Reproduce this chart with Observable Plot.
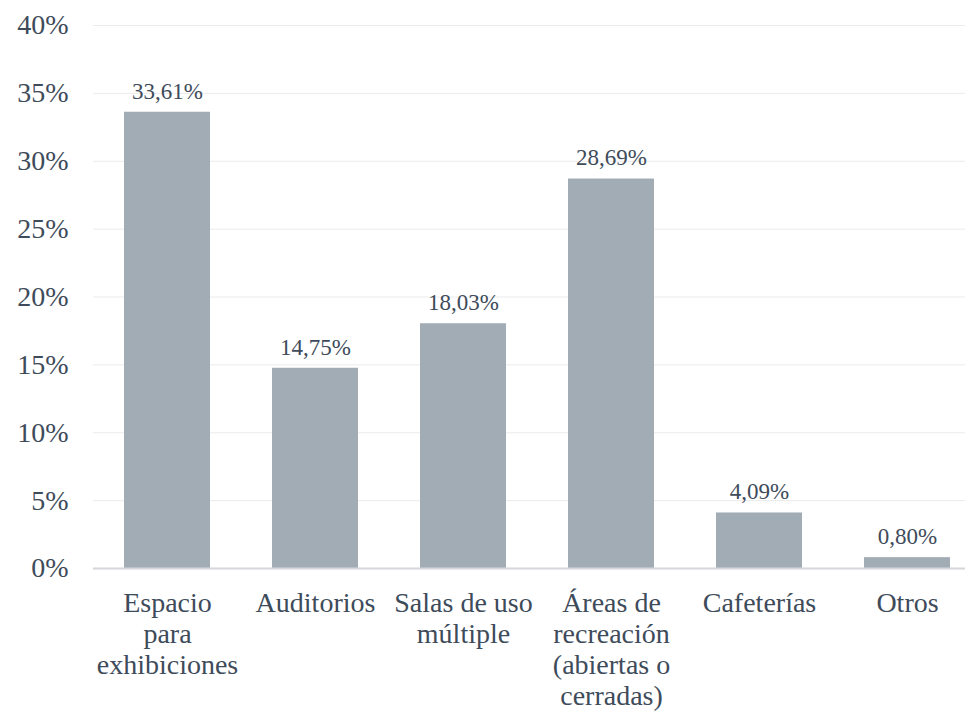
<!DOCTYPE html>
<html>
<head>
<meta charset="utf-8">
<script src="https://cdn.jsdelivr.net/npm/d3@7"></script>
<script src="https://cdn.jsdelivr.net/npm/@observablehq/plot@0.6"></script>
<style>
  text, tspan { font-family: "Liberation Serif", "Times New Roman", Tinos, serif; }
</style>
</head>
<body style="margin:0;background:#fff;font-family:'Liberation Serif',serif">
<div id="chart"></div>
<script>
const categories = [
  "Espacio\npara\nexhibiciones",
  "Auditorios",
  "Salas de uso\nmúltiple",
  "Áreas de\nrecreación\n(abiertas o\ncerradas)",
  "Cafeterías",
  "Otros"
];
const values = [33.61, 14.75, 18.03, 28.69, 4.09, 0.80];
const valueLabels = ["33,61%", "14,75%", "18,03%", "28,69%", "4,09%", "0,80%"];
const yTicks = [0, 5, 10, 15, 20, 25, 30, 35, 40];

const data = categories.map((c, i) => ({cat: c, value: values[i], label: valueLabels[i]}));

const serif = "Liberation Serif";
const textColor = "#3e4b5a";
const chart = Plot.plot({
  width: 965,
  height: 712,
  marginTop: 25,
  marginBottom: 144,
  marginLeft: 93,
  marginRight: 0,
  style: {fontFamily: serif, background: "#fff", color: textColor},
  x: {domain: categories, paddingInner: 0.42, paddingOuter: 0.15, align: 0.68, label: null},
  y: {domain: [0, 40], label: null},
  marks: [
    Plot.gridY(yTicks.filter(d => d > 0), {stroke: "#ebebeb", strokeOpacity: 1, strokeWidth: 1}),
    Plot.barY(data, {x: "cat", y: "value", fill: "#a2acb5"}),
    Plot.ruleY([0], {stroke: "#d4d6d9", strokeWidth: 2}),
    Plot.text(data, {x: "cat", y: "value", text: "label", dy: -21, fill: textColor, fontSize: 23, fontFamily: serif}),
    Plot.axisY({ticks: yTicks, tickSize: 0, tickPadding: 25, tickFormat: d => d + "%", fontSize: 28, fill: textColor, fontFamily: serif}),
    Plot.axisX({tickSize: 0, tickPadding: 22, fontSize: 28, lineHeight: 1.1, fill: textColor, fontFamily: serif})
  ]
});
chart.setAttribute("font-family", serif);
d3.select(chart).selectAll("g, text, tspan").each(function() {
  if (this.hasAttribute("font-family") || this.tagName === "text" || this.tagName === "tspan") {
    this.setAttribute("font-family", serif);
    this.style.fontFamily = serif;
  }
});
document.getElementById("chart").appendChild(chart);
</script>
</body>
</html>
